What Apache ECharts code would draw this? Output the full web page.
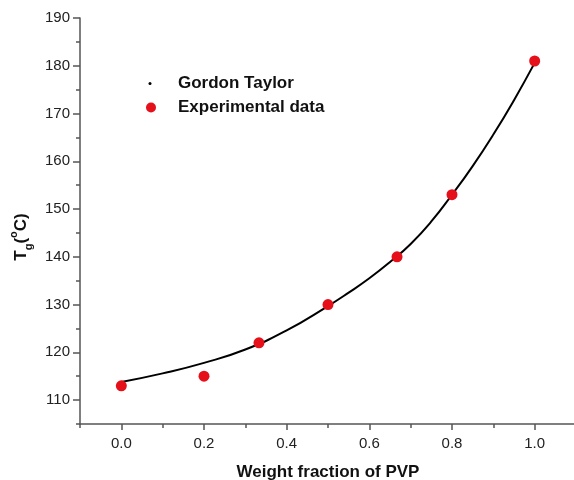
<!DOCTYPE html>
<html>
<head>
<meta charset="utf-8">
<script src="https://cdn.jsdelivr.net/npm/echarts@6/dist/echarts.min.js"></script>
<style>
  html, body { margin: 0; padding: 0; background: #fff; }
  #chart { width: 574px; height: 480px; }
</style>
</head>
<body>
<div id="chart"></div>
<script>
// Gordon Taylor fit
var gtX = [0, 0.1, 0.2, 0.3, 0.4, 0.5, 0.55, 0.6, 0.65, 0.7, 0.75, 0.8, 0.85, 0.9, 0.95, 1.0]
var gtY = [113.8, 115.6, 117.8, 120.6, 124.6, 129.7, 132.5, 135.5, 138.9, 142.7, 147.4, 153.0, 159.0, 165.6, 172.8, 180.6]

// experimental points
var expX = [0, 0.2, 0.333, 0.5, 0.667, 0.8, 1.0]
var expY = [113, 115, 122, 130, 140, 153, 181]

// ticks
var xMajor = [0, 0.2, 0.4, 0.6, 0.8, 1.0]
var xMinor = [-0.1, 0.1, 0.3, 0.5, 0.7, 0.9]
var yMajor = [110, 120, 130, 140, 150, 160, 170, 180, 190]
var yMinor = [105, 115, 125, 135, 145, 155, 165, 175, 185]

var font = "'Liberation Sans', Arial, sans-serif"
var axisColor = '#555'

var chart = echarts.init(document.getElementById('chart'))

function pairs(xs, ys) {
  return xs.map(function (x, i) { return [x, ys[i]] })
}

chart.setOption({
  backgroundColor: '#fff',
  animation: false,
  grid: { left: 80, right: -2, top: 18, bottom: 56, outerBoundsMode: 'none', containLabel: false },
  legend: [
    {
      data: ['Gordon Taylor'],
      left: 143.5,
      top: 70,
      icon: 'circle',
      itemWidth: 3,
      itemHeight: 3,
      selectedMode: false,
      textStyle: { fontFamily: font, fontSize: 17, fontWeight: 'bold', color: '#111', padding: [0, 0, 0, 21.5] }
    },
    {
      data: ['Experimental data'],
      left: 141,
      top: 94,
      icon: 'circle',
      itemWidth: 10,
      itemHeight: 10,
      selectedMode: false,
      textStyle: { fontFamily: font, fontSize: 17, fontWeight: 'bold', color: '#111', padding: [0, 0, 0, 17] }
    }
  ],
  xAxis: [
    {
      type: 'value',
      min: -0.1,
      max: 1.1,
      name: 'Weight fraction of PVP',
      nameLocation: 'middle',
      nameGap: 40,
      nameTextStyle: { fontFamily: font, fontSize: 17, fontWeight: 'bold', color: '#111' },
      splitLine: { show: false },
      axisLine: { show: true, onZero: false, lineStyle: { color: axisColor, width: 1.5 } },
      axisTick: { show: true, length: 6, customValues: xMajor, lineStyle: { color: axisColor, width: 1.5 } },
      axisLabel: {
        customValues: xMajor,
        margin: 12,
        fontFamily: font, fontSize: 15, color: '#222',
        formatter: function (v) { return v.toFixed(1) }
      }
    },
    {
      type: 'value',
      min: -0.1,
      max: 1.1,
      position: 'bottom',
      splitLine: { show: false },
      axisLine: { show: false, onZero: false },
      axisTick: { show: true, length: 4, customValues: xMinor, lineStyle: { color: axisColor, width: 1.5 } },
      axisLabel: { show: false }
    }
  ],
  yAxis: [
    {
      type: 'value',
      min: 105,
      max: 190,
      name: '{a|T}{sub|g}{a|(}{sup|o}{a|C)}',
      nameLocation: 'middle',
      nameRotate: 90,
      nameGap: 44,
      nameTextStyle: {
        padding: [0, 32, 0, 0],
        rich: {
          a: { fontFamily: font, fontSize: 17, fontWeight: 'bold', color: '#111', lineHeight: 26, verticalAlign: 'middle' },
          sub: { fontFamily: font, fontSize: 11, fontWeight: 'bold', color: '#111', lineHeight: 12, verticalAlign: 'bottom' },
          sup: { fontFamily: font, fontSize: 11, fontWeight: 'bold', color: '#111', lineHeight: 12, verticalAlign: 'top' }
        }
      },
      splitLine: { show: false },
      axisLine: { show: true, onZero: false, lineStyle: { color: axisColor, width: 1.5 } },
      axisTick: { show: true, length: 7, customValues: yMajor, lineStyle: { color: axisColor, width: 1.5 } },
      axisLabel: {
        customValues: yMajor,
        margin: 10,
        fontFamily: font, fontSize: 15, color: '#222'
      }
    },
    {
      type: 'value',
      min: 105,
      max: 190,
      position: 'left',
      splitLine: { show: false },
      axisLine: { show: false, onZero: false },
      axisTick: { show: true, length: 4, customValues: yMinor, lineStyle: { color: axisColor, width: 1.5 } },
      axisLabel: { show: false }
    }
  ],
  series: [
    {
      name: 'Gordon Taylor',
      type: 'line',
      smooth: true,
      showSymbol: false,
      symbol: 'circle',
      itemStyle: { color: '#000' },
      lineStyle: { color: '#000', width: 2 },
      data: pairs(gtX, gtY),
      z: 2
    },
    {
      name: 'Experimental data',
      type: 'scatter',
      symbol: 'circle',
      symbolSize: 11,
      itemStyle: { color: '#e5101a', opacity: 1 },
      data: pairs(expX, expY),
      z: 3
    }
  ]
})
</script>
</body>
</html>
